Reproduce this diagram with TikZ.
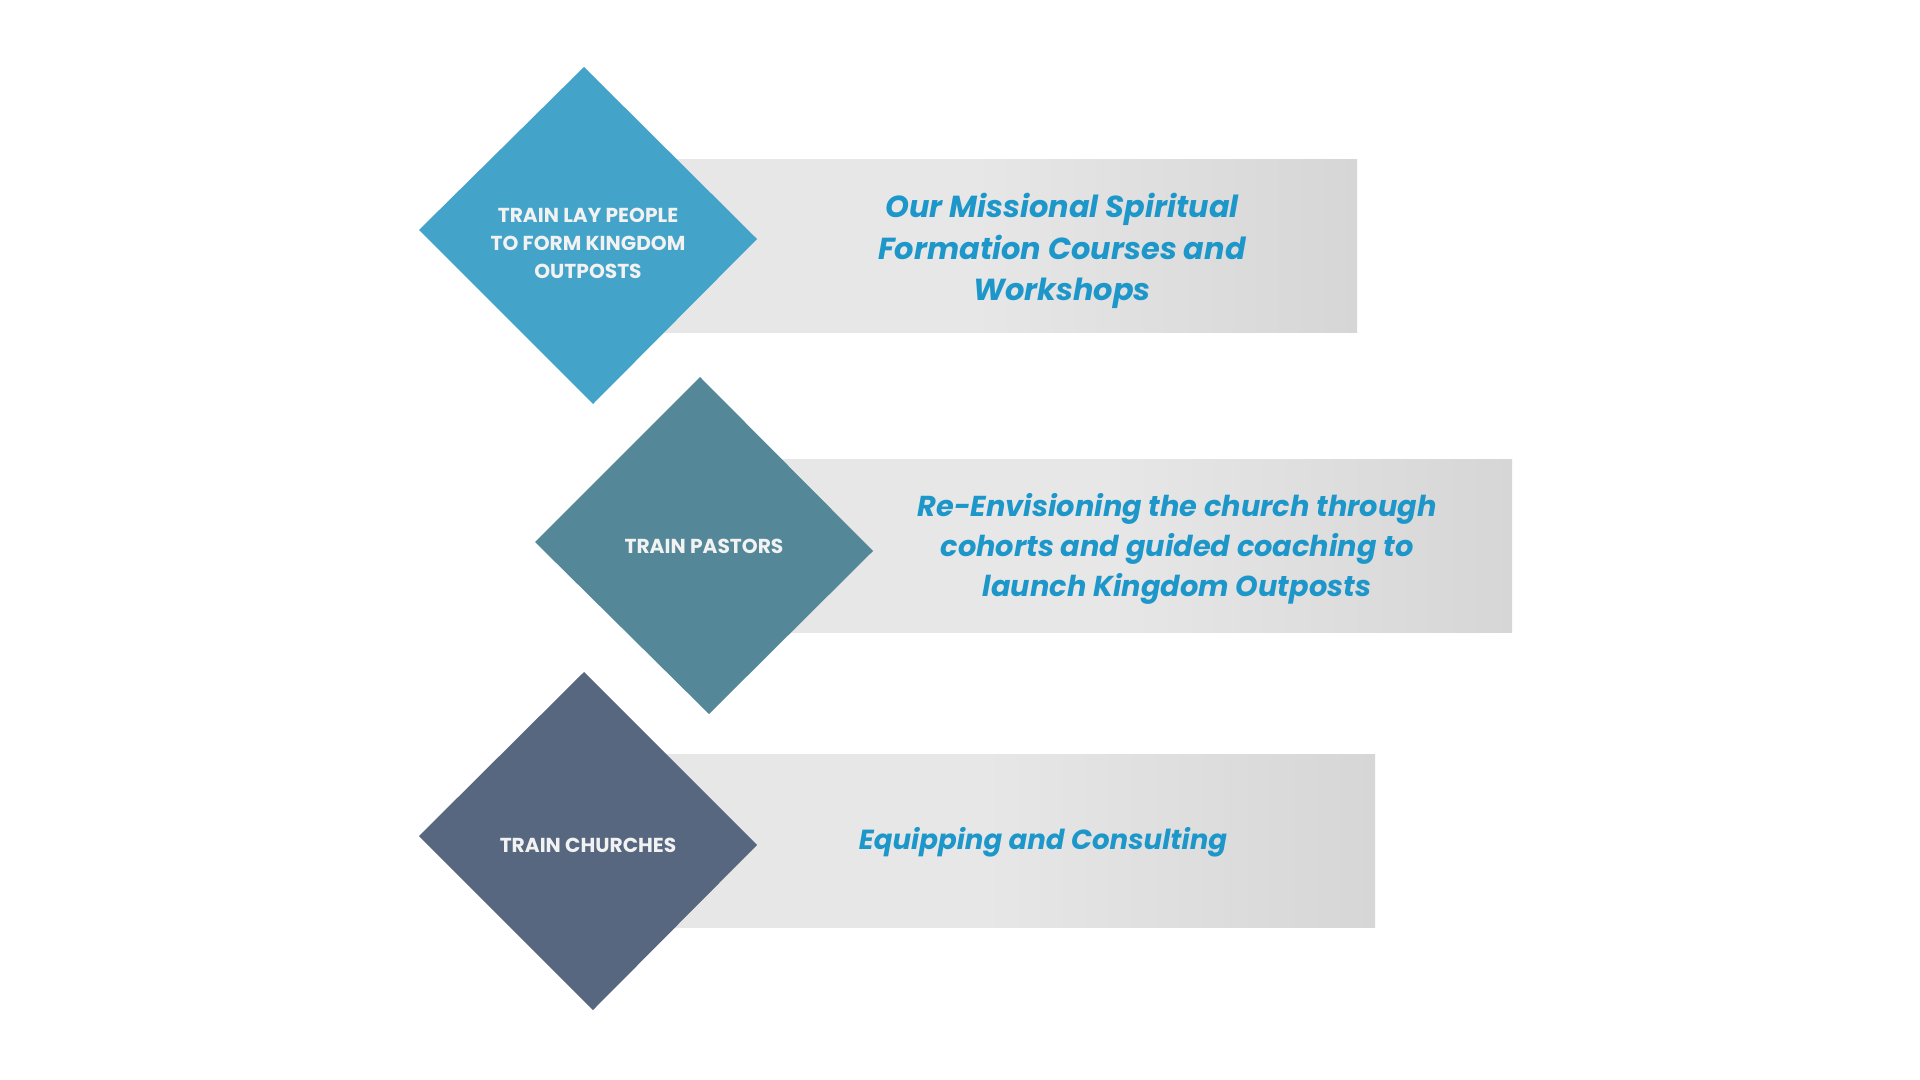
\documentclass[tikz,border=0pt]{standalone}
\usepackage{fontspec}
\setmainfont{Poppins}
\definecolor{dA}{HTML}{44A3C9}
\definecolor{dB}{HTML}{548899}
\definecolor{dC}{HTML}{56677F}
\definecolor{bandL}{HTML}{E7E7E7}
\definecolor{bandR}{HTML}{D6D6D6}
\definecolor{txtblue}{HTML}{1D97C9}
\definecolor{dtxt}{HTML}{F2F2F2}
\pgfdeclarehorizontalshading{bandshade}{100bp}{color(0bp)=(bandL); color(25bp)=(bandL); color(50bp)=(bandL); color(75bp)=(bandR); color(100bp)=(bandR)}
\tikzset{
  dlabel/.style={text=dtxt, font=\fontsize{10.1}{14}\selectfont\bfseries, align=center},
  blabel/.style={text=txtblue, align=center},
  band/.style={shading=bandshade, shading angle=0},
}
\begin{document}
\begin{tikzpicture}[x=0.5pt,y=-0.5pt]
\useasboundingbox (0,0) rectangle (1920,1080);
\fill[white] (0,0) rectangle (1920,1080);
% bands
\shade[band] (588,160) rectangle (1357,333);
\shade[band] (704,459) rectangle (1512,632);
\shade[band] (588,754) rectangle (1375,927);
% diamonds
\fill[dA] (584,67) -- (757,239) -- (593,404) -- (419,230) -- cycle;
\fill[dB] (700,377) -- (873,551) -- (709,714) -- (535,542) -- cycle;
\fill[dC] (584,672) -- (757,845) -- (593,1010) -- (419,836) -- cycle;
% diamond labels
\node[dlabel] (d1) at (588,243) {TRAIN LAY PEOPLE\\TO FORM KINGDOM\\OUTPOSTS};
\node[dlabel] (d2) at (704,546) {TRAIN PASTORS};
\node[dlabel] (d3) at (588,845) {TRAIN CHURCHES};
% band labels
\node[blabel, font=\fontsize{15.2}{20.8}\selectfont\bfseries\itshape] (b1) at (1062,251) {Our Missional Spiritual\\Formation Courses and\\Workshops};
\node[blabel, font=\fontsize{14.4}{20.2}\selectfont\bfseries\itshape] (b2) at (1177,549) {Re-Envisioning the church through\\cohorts and guided coaching to\\launch Kingdom Outposts};
\node[blabel, font=\fontsize{13.8}{20}\selectfont\bfseries\itshape] (b3) at (1043,842) {Equipping and Consulting};
\end{tikzpicture}
\end{document}
